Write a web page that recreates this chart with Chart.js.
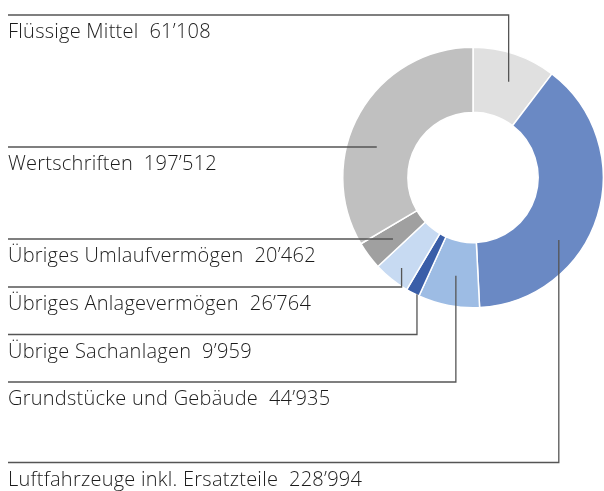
<!DOCTYPE html>
<html>
<head>
<meta charset="utf-8">
<script src="https://cdn.jsdelivr.net/npm/chart.js@4/dist/chart.umd.min.js"></script>
<style>
  html, body { margin: 0; padding: 0; background: #ffffff; }
  #wrap { width: 604px; height: 491px; position: relative; }
</style>
</head>
<body>
<div id="wrap"><canvas id="c" width="604" height="491"></canvas></div>
<script>
// ---- data ----
const categories = [
  "Flüssige Mittel",
  "Luftfahrzeuge inkl. Ersatzteile",
  "Grundstücke und Gebäude",
  "Übrige Sachanlagen",
  "Übriges Anlagevermögen",
  "Übriges Umlaufvermögen",
  "Wertschriften"
];
const values = [61108, 228994, 44935, 9959, 26764, 20462, 197512];
const valueLabels = ["61’108", "228’994", "44’935", "9’959", "26’764", "20’462", "197’512"];

// ---- presentation ----
const colors = ["#e0e0e0", "#6a89c4", "#9dbce4", "#3a5ea8", "#c7daf2", "#a0a0a0", "#c0c0c0"];
// y of the rule above each label
const rowY = [15, 462.5, 382, 334.5, 287, 239, 147];
// leader anchor: type, fraction within slice angle, fraction across ring
const anchors = [
  { type: "elbow", af: 0.547, rf: 0.57 },
  { type: "elbow", af: 0.635, rf: 0.63 },
  { type: "elbow", af: 0.467, rf: 0.53 },
  { type: "elbow", af: 0.18, rf: 0.99 },
  { type: "elbow", af: 0.47, rf: 0.77 },
  { type: "horiz", rf: 0.55 },
  { type: "horiz", rf: 0.55 }
];

const leaderPlugin = {
  id: "leaders",
  afterDraw(chart) {
    const ctx = chart.ctx;
    const meta = chart.getDatasetMeta(0);
    ctx.save();
    ctx.strokeStyle = "#555555";
    ctx.lineWidth = 1.3;
    ctx.fillStyle = "#1c1c1c";
    ctx.font = "300 20px 'Open Sans'";
    try { ctx.letterSpacing = "0.25px"; } catch (e) {}
    ctx.textBaseline = "alphabetic";
    ctx.textAlign = "left";
    meta.data.forEach((arc, i) => {
      const p = arc.getProps(["x", "y", "startAngle", "endAngle", "innerRadius", "outerRadius"], true);
      const a = anchors[i];
      const r = p.innerRadius + a.rf * (p.outerRadius - p.innerRadius);
      const y0 = rowY[i];
      const x0 = 8;
      ctx.beginPath();
      ctx.moveTo(x0, y0);
      if (a.type === "horiz") {
        const dy = y0 - p.y;
        const ax = p.x - Math.sqrt(Math.max(0, r * r - dy * dy));
        ctx.lineTo(ax, y0);
      } else {
        const ang = p.startAngle + a.af * (p.endAngle - p.startAngle);
        const ax = p.x + r * Math.cos(ang);
        const ay = p.y + r * Math.sin(ang);
        ctx.lineTo(ax, y0);
        ctx.lineTo(ax, ay);
      }
      ctx.stroke();
      ctx.fillText(categories[i] + "  " + valueLabels[i], 8, y0 + 23);
    });
    ctx.restore();
  }
};

new Chart(document.getElementById("c"), {
  type: "doughnut",
  data: {
    labels: categories,
    datasets: [{
      data: values,
      backgroundColor: colors,
      borderColor: "#ffffff",
      borderWidth: 1.5,
      hoverOffset: 0
    }]
  },
  options: {
    responsive: false,
    animation: false,
    cutout: "50%",
    layout: { padding: { left: 342, right: 0, top: 46, bottom: 182 } },
    plugins: { legend: { display: false }, tooltip: { enabled: false } }
  },
  plugins: [leaderPlugin]
});
</script>
</body>
</html>
